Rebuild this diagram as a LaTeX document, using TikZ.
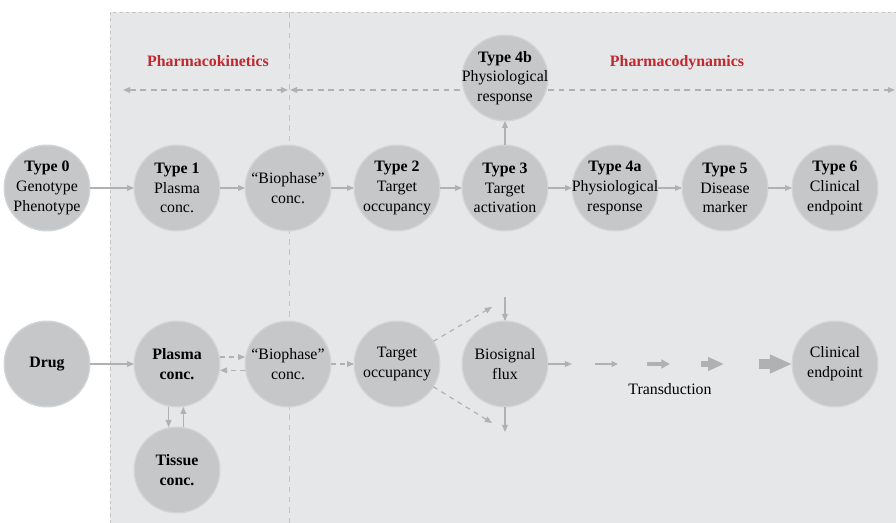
\documentclass[tikz,border=0pt]{standalone}
\usepackage{fontspec}
\setmainfont{Liberation Serif}
\usetikzlibrary{arrows.meta}

\definecolor{panelgray}{RGB}{230,231,233}
\definecolor{circgray}{RGB}{198,199,201}
\definecolor{ringgray}{RGB}{211,212,214}
\definecolor{arrowgray}{RGB}{176,177,179}
\definecolor{linegray}{RGB}{196,197,199}
\definecolor{phasered}{RGB}{193,39,45}

\begin{document}
\begin{tikzpicture}[x=0.63pt,y=-0.63pt,
  stage/.style={circle, fill=circgray, draw=ringgray, line width=0.8pt,
    minimum size=54pt, inner sep=-15pt, outer sep=0pt, align=center,
    font=\fontsize{10}{12.4}\selectfont},
  flow/.style={draw=arrowgray, line width=0.75pt, -{Triangle[length=4.5pt,width=3.6pt]}},
  dflow/.style={flow, dash pattern=on 3pt off 3pt},
  phasearrow/.style={draw=arrowgray, line width=0.75pt, dash pattern=on 3.6pt off 3pt,
    {Triangle[length=4.5pt,width=3.6pt]}-{Triangle[length=4.5pt,width=3.6pt]}},
  phase/.style={anchor=base, font=\fontsize{10}{12}\selectfont\bfseries, text=phasered}]

\useasboundingbox (0,0) rectangle (896,523);

% panel behind the PK/PD stages
\fill[panelgray] (110,12) rectangle (896,523);
\draw[linegray, line width=0.6pt, dash pattern=on 2pt off 2pt] (110,523) -- (110,12) -- (896,12);
\draw[linegray, line width=0.6pt, dash pattern=on 3.5pt off 3pt] (289,12) -- (289,523);

% phase labels
\node[phase] (pk) at (208,67) {Pharmacokinetics};
\node[phase] (pd) at (677,67) {Pharmacodynamics};
\coordinate (pkL) at (123,90);
\coordinate (pkR) at (288,90);
\coordinate (pdL) at (290,90);
\coordinate (pdR) at (895,90);
\draw[phasearrow] (pkL) -- (pkR);
\draw[phasearrow] (pdL) -- (pdR);

% upper row: biomarker types
\node[stage] (t0) at (47,188) {\textbf{Type 0}\\Genotype\\Phenotype};
\node[stage] (t1) at (177,188) {\textbf{Type 1}\\Plasma\\conc.};
\node[stage] (bio1) at (288,188) {“Biophase”\\conc.};
\node[stage] (t2) at (397,188) {\textbf{Type 2}\\Target\\occupancy};
\node[stage] (t3) at (505,188) {\textbf{Type 3}\\Target\\activation};
\node[stage] (t4a) at (615,188) {\textbf{Type 4a}\\Physiological\\response};
\node[stage] (t4b) at (505,78) {\textbf{Type 4b}\\Physiological\\response};
\node[stage] (t5) at (725,188) {\textbf{Type 5}\\Disease\\marker};
\node[stage] (t6) at (835,188) {\textbf{Type 6}\\Clinical\\endpoint};

\draw[flow] (t0) -- (t1);
\draw[flow] (t1) -- (bio1);
\draw[flow] (bio1) -- (t2);
\draw[flow] (t2) -- (t3);
\draw[flow] (t3) -- (t4a);
\draw[flow] (t4a) -- (t5);
\draw[flow] (t5) -- (t6);
\draw[flow] (t3) -- (t4b);

% lower row: mechanism
\node[stage] (drug) at (47,364) {\textbf{Drug}};
\node[stage] (plasma) at (177,364) {\textbf{Plasma}\\\textbf{conc.}};
\node[stage] (tissue) at (177,470) {\textbf{Tissue}\\\textbf{conc.}};
\node[stage] (bio2) at (288,364) {“Biophase”\\conc.};
\node[stage] (occ) at (397,364) {Target\\occupancy};
\node[stage] (flux) at (505,364) {Biosignal\\flux};
\node[stage] (clin) at (835,364) {Clinical\\endpoint};

\draw[flow] (drug) -- (plasma);
\draw[dflow] ([yshift=4.4pt]plasma.east) -- ([yshift=4.4pt]bio2.west);
\draw[dflow] ([yshift=-4pt]bio2.west) -- ([yshift=-4pt]plasma.east);
\draw[flow] ([xshift=-5.3pt]plasma.south) -- ([xshift=-5.3pt]tissue.north);
\draw[flow] ([xshift=4pt]tissue.north) -- ([xshift=4pt]plasma.south);
\draw[dflow] (bio2) -- (occ);

% branching signals round the flux
\coordinate (upOut) at (492,307);
\coordinate (dnOut) at (492,423);
\coordinate (inTop) at (505,297);
\coordinate (outBot) at (505,432);
\coordinate (fluxOut) at (572,364);
\draw[dflow] (occ.32) -- (upOut);
\draw[dflow] (occ.-32) -- (dnOut);
\draw[flow] (inTop) -- (flux.north);
\draw[flow] (flux.south) -- (outBot);
\draw[flow] (flux.east) -- (fluxOut);

% transduction: growing arrows
\coordinate (tr1a) at (595,364); \coordinate (tr1b) at (618,364);
\coordinate (tr2a) at (647,364); \coordinate (tr2b) at (670,364);
\coordinate (tr3a) at (701,364); \coordinate (tr3b) at (724,364);
\draw[arrowgray, line width=1.3pt, -{Triangle[length=4pt,width=3.6pt]}] (tr1a) -- (tr1b);
\draw[arrowgray, line width=2.6pt, -{Triangle[length=5.5pt,width=5.6pt]}] (tr2a) -- (tr2b);
\draw[arrowgray, line width=4.2pt, -{Triangle[length=10pt,width=8.2pt]}] (tr3a) -- (tr3b);
\draw[arrowgray, line width=5.7pt, -{Triangle[length=14pt,width=11pt]}] (759,364) -- (clin.west);
\node[font=\fontsize{10}{12}\selectfont] (trans) at (670,389) {Transduction};

\end{tikzpicture}
\end{document}
